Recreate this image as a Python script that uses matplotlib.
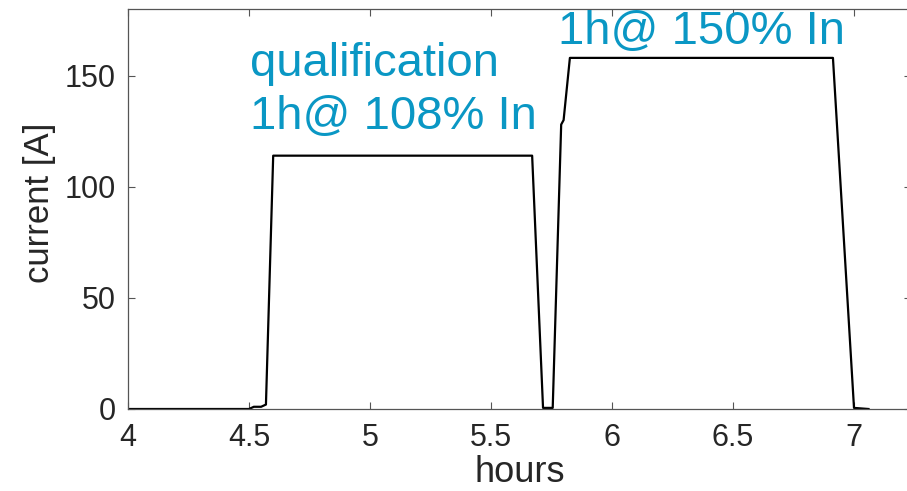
import matplotlib
matplotlib.use("Agg")
import matplotlib.pyplot as plt

hours = [4.0, 4.50, 4.52, 4.55, 4.57, 4.60, 5.67, 5.715, 5.755, 5.79, 5.80, 5.826, 6.913, 7.0, 7.06]
current = [0.0, 0.0, 1.0, 1.0, 2.0, 114.0, 114.0, 0.5, 0.5, 128.0, 130.0, 158.0, 158.0, 0.5, 0.0]

xticks = [4, 4.5, 5, 5.5, 6, 6.5, 7]
xticklabels = ["4", "4.5", "5", "5.5", "6", "6.5", "7"]
yticks = [0, 50, 100, 150]

W, H = 907, 491
fig = plt.figure(figsize=(W/100, H/100), dpi=100)
plt.rcParams['font.family'] = ['Liberation Sans', 'DejaVu Sans']
left, right, top, bottom = 128, 911, 9, 409
ax = fig.add_axes([left/W, (H-bottom)/H, (right-left)/W, (bottom-top)/H])
ax.plot(hours, current, color='black', lw=1.6)
ax.set_xlim(4, 4 + (right-left)/242.0)
ax.set_ylim(0, 180)
ax.set_xticks(xticks)
ax.set_xticklabels(xticklabels)
ax.set_yticks(yticks)
ax.tick_params(direction='in', top=True, right=True, labelsize=22, length=5, width=0.8,
               color='#555555', labelcolor='#262626')
ax.tick_params(axis='x', pad=10)
ax.tick_params(axis='y', pad=9)
for s in ax.spines.values():
    s.set_color('#555555')
    s.set_linewidth(0.9)
ax.set_xlabel('hours', fontsize=26, color='#262626', labelpad=1.5)
ax.set_ylabel('current [A]', fontsize=25, color='#262626', labelpad=6)
ax.yaxis.label.set_y(0.515)

teal = '#0a97c4'
ax.text(4.504, 149.8, 'qualification', fontsize=34, color=teal, va='baseline', ha='left')
ax.text(4.504, 125.9, '1h@ 108% In', fontsize=34, color=teal, va='baseline', ha='left')
ax.text(5.777, 164.2, '1h@ 150% In', fontsize=34, color=teal, va='baseline', ha='left')

fig.savefig('out.png', dpi=100)
